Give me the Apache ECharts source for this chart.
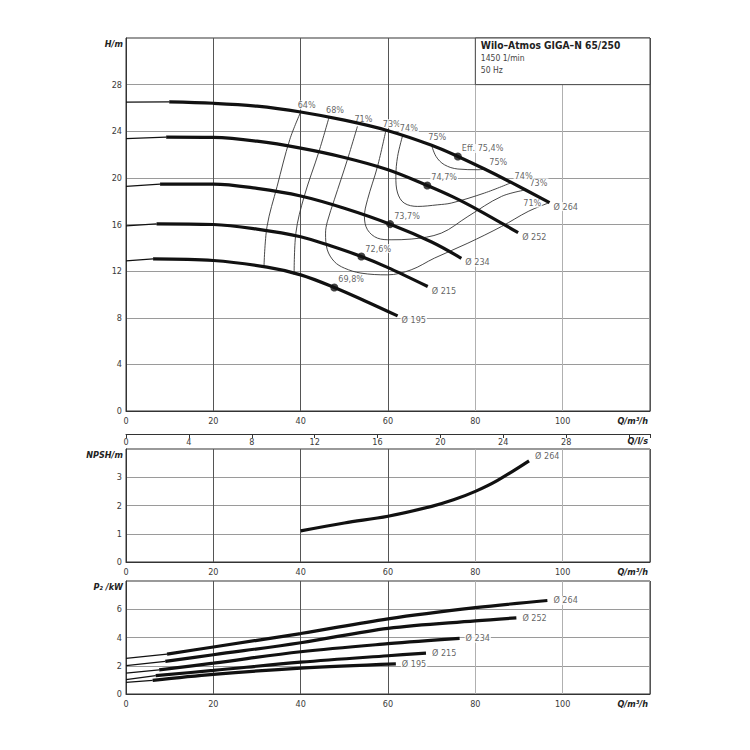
<!DOCTYPE html>
<html><head><meta charset="utf-8">
<script src="https://cdn.jsdelivr.net/npm/echarts@6/dist/echarts.min.js"></script>
<style>html,body{margin:0;padding:0;background:#fff}#c{width:750px;height:750px}</style>
</head><body><div id="c"></div>
<script>
// ---------- data ----------
const diameterLabels = ['Ø 264', 'Ø 252', 'Ø 234', 'Ø 215', 'Ø 195'];

// H-Q curves [Q m3/h, H m]; first segment (to 2nd point) is thin
const H264 = [[0,26.5],[9.9,26.52],[20,26.4],[30,26.15],[40,25.65],[50,24.95],[60,24.05],[70,22.8],[76,21.84],[82,20.78],[88,19.65],[97,17.88]];
const H252 = [[0,23.36],[9.2,23.5],[20,23.47],[30,23.15],[40,22.55],[50,21.75],[60,20.7],[69,19.35],[75,18.35],[80.6,17.26],[89.8,15.3]];
const H234 = [[0,19.27],[7.8,19.47],[20,19.47],[30,19.1],[40,18.45],[50,17.4],[60.5,16.03],[70,14.5],[76.8,13.1]];
const H215 = [[0,15.89],[7,16.06],[20,16.0],[30,15.6],[40,14.95],[47,14.15],[53.9,13.25],[60,12.3],[69.1,10.68]];
const H195 = [[0,12.88],[6.2,13.05],[20,12.91],[32.3,12.34],[40,11.68],[47.7,10.6],[55,9.4],[62.2,8.16]];

// best efficiency points
const bepPoints = [[76,21.84],[69,19.35],[60.5,16.03],[53.9,13.25],[47.7,10.6]];
const bepLabels = ['Eff. 75,4%','74,7%','73,7%','72,6%','69,8%'];

// iso-efficiency contours
const eff64 = [[40.0,25.65],[37.5,23.28],[34.6,19.26],[32.3,15.83],[31.6,12.39]];
const eff68 = [[46.5,25.2],[44.2,22.27],[40.8,18.4],[38.9,15.26],[38.5,11.68]];
const eff71 = [[53.0,24.42],[50.7,21.56],[47.7,18.12],[46.1,16.23],[45.7,15.26],[46.1,13.83],[47.7,12.82],[50.0,12.26],[53.8,11.83],[59.9,11.68],[65.3,12.11],[70.6,13.11],[78.3,14.4],[86.0,15.83],[92.1,17.12],[96.7,17.84]];
const eff73 = [[59.5,24.05],[57.6,20.98],[55.3,18.12],[54.6,16.69],[55.3,15.55],[57.6,14.83],[60.7,14.69],[65.3,14.75],[72.2,15.26],[78.3,16.69],[86.0,18.41],[91.7,18.98]];
const eff74 = [[63.4,23.7],[62.2,21.84],[61.8,20.12],[62.2,18.7],[63.7,17.84],[66.8,17.55],[71.4,17.69],[74.5,17.84],[82.1,18.7],[88.3,19.6]];
const eff75 = [[69.9,22.9],[71.0,21.84],[72.9,21.13],[76.0,20.76],[80.6,20.7],[82.5,20.75]];
const effLeftLabels  = ['64%','68%','71%','73%','74%','75%'];
const effRightLabels = ['','','71%','73%','74%','75%'];

// NPSH curve (Ø 264)
const NPSH264 = [[40,1.1],[50,1.38],[60,1.62],[70,1.97],[75,2.2],[80,2.5],[85,2.88],[92.3,3.58]];

// P2 curves [Q, kW]
const P264 = [[0,2.52],[9.4,2.82],[20,3.33],[40,4.28],[60,5.32],[80,6.11],[96.5,6.62]];
const P252 = [[0,2.01],[9,2.31],[20,2.78],[40,3.63],[60,4.65],[80,5.18],[89.4,5.39]];
const P234 = [[0,1.48],[7.6,1.71],[20,2.18],[40,2.99],[60,3.56],[76.4,3.94]];
const P215 = [[0,1.02],[6.8,1.30],[20,1.67],[40,2.25],[60,2.71],[68.7,2.89]];
const P195 = [[0,0.83],[6.1,0.97],[20,1.39],[40,1.83],[61.8,2.13]];

const titleLines = ['Wilo–Atmos GIGA–N 65/250', '1450 1/min', '50 Hz'];

// ---------- chart ----------
const FONT = "'DejaVu Sans Condensed','DejaVu Sans',sans-serif";
const TXT = '#3a3a3a';
const vColors = ['#555','#555','#555','#555','#b0b0b0','#b0b0b0','#555'];

const chart = echarts.init(document.getElementById('c'), null, {renderer:'svg', width:750, height:750});

const nameStyleX = {fontSize:9, fontWeight:'bold', fontStyle:'italic', color:'#222', fontFamily:FONT, align:'right', verticalAlign:'top', padding:[5,0,0,0]};
const nameStyleY = {fontSize:9, fontWeight:'bold', fontStyle:'italic', color:'#222', fontFamily:FONT, align:'right', verticalAlign:'top', padding:[0,3,0,0]};

function qAxis(gi) {
  return {type:'value', gridIndex:gi, min:0, max:120, interval:20,
    axisLine:{show:true, onZero:false, lineStyle:{color:'#333', width:1}},
    axisTick:{show:false},
    axisLabel:{fontSize:9, color:TXT, margin:5, fontFamily:FONT, formatter:v => v >= 120 ? '' : String(v)},
    splitLine:{show:true, lineStyle:{color:vColors, width:1}},
    name:'Q/m³/h', nameLocation:'end', nameGap:-2, nameTextStyle:nameStyleX};
}
function yAxis(gi, max, interval, name) {
  return {type:'value', gridIndex:gi, min:0, max:max, interval:interval,
    axisLine:{show:true, lineStyle:{color:'#333'}},
    axisTick:{show:false},
    axisLabel:{fontSize:9, color:TXT, margin:4, fontFamily:FONT, formatter:v => v >= max ? '' : String(v)},
    splitLine:{show:true, lineStyle:{color:'#9a9a9a', width:1}},
    name:name, nameLocation:'end', nameGap:-1, nameTextStyle:nameStyleY};
}

const xAxes = [
  qAxis(0),
  {type:'value', gridIndex:0, position:'bottom', offset:23, min:0, max:120/3.6, interval:4,
    axisLine:{show:true, onZero:false, lineStyle:{color:'#333', width:1}},
    axisTick:{show:true, length:4, lineStyle:{color:'#333'}},
    axisLabel:{fontSize:9, color:TXT, margin:3, fontFamily:FONT, formatter:v => v > 30 ? '' : String(v)},
    splitLine:{show:false},
    name:'Q/l/s', nameLocation:'end', nameGap:-2, nameTextStyle:Object.assign({}, nameStyleX, {padding:[2,0,0,0]})},
  qAxis(1),
  qAxis(2)
];
const yAxes = [ yAxis(0, 32, 4, 'H/m'), yAxis(1, 4, 1, 'NPSH/m'), yAxis(2, 8, 2, 'P₂ /kW') ];

const series = [];
const baseLabel = {show:true, position:'inside', fontSize:9, color:TXT, fontFamily:FONT, backgroundColor:'#fff', padding:[0,1], verticalAlign:'middle'};

function textSeries(xi, yi, items, z) {
  series.push({type:'scatter', xAxisIndex:xi, yAxisIndex:yi, symbolSize:1, silent:true, z:z || 4,
    itemStyle:{color:'rgba(0,0,0,0)'},
    data: items.map(it => ({value: it.value, label: Object.assign({}, baseLabel, {formatter: it.text, align: it.align || 'left', offset: it.offset})}))
  });
}
function addCurve(data, xi, yi, thin) {
  if (thin) {
    series.push({type:'line', xAxisIndex:xi, yAxisIndex:yi, data:data.slice(0,2), showSymbol:false, symbol:'none', silent:true, z:5,
      lineStyle:{color:'#111', width:1.3}});
    data = data.slice(1);
  }
  series.push({type:'line', xAxisIndex:xi, yAxisIndex:yi, data:data, smooth:0.35, showSymbol:false, symbol:'none', silent:true, z:6,
    lineStyle:{color:'#111', width:3.2}});
}

// efficiency contours
const effCurves = [eff64, eff68, eff71, eff73, eff74, eff75];
effCurves.forEach((c, i) => {
  const s = {type:'line', xAxisIndex:0, yAxisIndex:0, data:c, smooth:0.35, showSymbol:false, symbol:'none', silent:true, z:3,
    lineStyle:{color:'#333', width:0.9}};
  if (i === 0) {
    s.markArea = {silent:true,
      itemStyle:{color:'#fff', borderColor:'#444', borderWidth:1},
      label:{show:true, position:[6,1.5], align:'left', verticalAlign:'top',
        formatter:'{t|' + titleLines[0] + '}\n{s|' + titleLines[1] + '}\n{s|' + titleLines[2] + '}',
        rich:{t:{fontSize:10.2, fontWeight:'bold', color:'#222', lineHeight:13, fontFamily:FONT},
              s:{fontSize:8.5, color:'#444', lineHeight:12, fontFamily:FONT}}},
      data:[[{xAxis:80, yAxis:28}, {xAxis:120, yAxis:32}]]};
  }
  series.push(s);
});
const effLabelItems = [];
effCurves.forEach((c, i) => {
  effLabelItems.push({value:c[0], text:effLeftLabels[i], offset:[-4,-7]});
  if (effRightLabels[i]) {
    const e = c[c.length - 1];
    if (effRightLabels[i] === '71%') effLabelItems.push({value:e, text:effRightLabels[i], align:'right', offset:[-6,0]});
    else effLabelItems.push({value:e, text:effRightLabels[i], offset:[2,-7]});
  }
});
textSeries(0, 0, effLabelItems, 4);

// head curves
const headCurves = [H264, H252, H234, H215, H195];
headCurves.forEach(c => addCurve(c, 0, 0, true));
textSeries(0, 0, headCurves.map((c, i) => ({value:c[c.length-1], text:diameterLabels[i], offset:[3,4]})), 4);

// BEP dots
series.push({type:'scatter', xAxisIndex:0, yAxisIndex:0, symbol:'circle', symbolSize:8, silent:true, z:7,
  itemStyle:{color:'#111'},
  data: bepPoints.map((p, i) => ({value:p, label:Object.assign({}, baseLabel, {formatter:bepLabels[i], align:'left', offset:[3,-8]})}))
});

// NPSH
addCurve(NPSH264, 2, 1, false);
textSeries(2, 1, [{value:NPSH264[NPSH264.length-1], text:diameterLabels[0], offset:[5,-5]}], 4);

// P2
const powerCurves = [P264, P252, P234, P215, P195];
powerCurves.forEach(c => addCurve(c, 3, 2, true));
textSeries(3, 2, powerCurves.map((c, i) => ({value:c[c.length-1], text:diameterLabels[i], offset:[5,0]})), 4);

const gridBase = {left:126, right:100, show:true, borderColor:'#333', borderWidth:1, backgroundColor:'transparent', containLabel:false, outerBoundsMode:'none'};
chart.setOption({
  animation:false,
  backgroundColor:'#fff',
  grid:[
    Object.assign({}, gridBase, {top:38, height:373}),
    Object.assign({}, gridBase, {top:449, height:113}),
    Object.assign({}, gridBase, {top:581, height:113})
  ],
  xAxis:xAxes,
  yAxis:yAxes,
  series:series
});
</script>
</body></html>
